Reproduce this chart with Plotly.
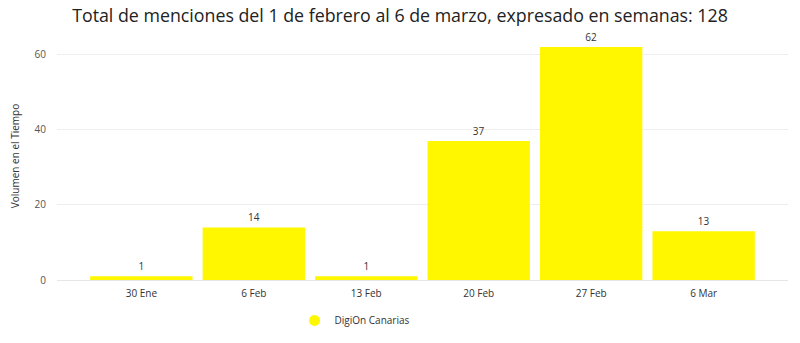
import plotly.graph_objects as go

categories = ["30 Ene", "6 Feb", "13 Feb", "20 Feb", "27 Feb", "6 Mar"]
values = [1, 14, 1, 37, 62, 13]
series_name = "DigiOn Canarias"
title_text = "Total de menciones del 1 de febrero al 6 de marzo, expresado en semanas: 128"
y_title = "Volumen en el Tiempo"
y_ticks = [0, 20, 40, 60]

yellow = "#FFF700"
font_family = "Open Sans, Noto Sans, sans-serif"

fig = go.Figure()
fig.add_trace(go.Bar(
    x=categories, y=values, marker=dict(color=yellow, line=dict(width=0)),
    text=values, textposition="outside", cliponaxis=False,
    textfont=dict(size=10, color="#333333", family=font_family),
    showlegend=False, name=series_name,
))
fig.add_trace(go.Scatter(
    x=[None], y=[None], mode="markers", name=series_name,
    marker=dict(symbol="circle", size=11, color=yellow),
))

fig.update_layout(
    width=800, height=343,
    margin=dict(l=57, r=12, t=32, b=63, autoexpand=False),
    paper_bgcolor="white", plot_bgcolor="white",
    title=dict(text=title_text, x=0.5, xanchor="center", y=0.955, yanchor="middle",
               font=dict(size=17.8, color="#222222", family=font_family)),
    bargap=0.09,
    xaxis=dict(range=[-0.75, 5.75], showgrid=False, showline=False, ticks="",
               ticklabelstandoff=6, automargin=False,
               tickfont=dict(size=10, color="#333333", family=font_family)),
    yaxis=dict(range=[0, 66], tickvals=y_ticks, showgrid=True, gridcolor="#eeeeee",
               zeroline=True, zerolinecolor="#e6e6e6", zerolinewidth=1, automargin=False,
               tickfont=dict(size=10, color="#555555", family=font_family),
               ticklabelstandoff=10,
               title=dict(text=y_title, standoff=13,
                          font=dict(size=10, color="#333333", family=font_family))),
    legend=dict(orientation="h", x=0.325, xanchor="left", y=-0.163, yanchor="middle",
                font=dict(size=10, color="#333333", family=font_family)),
)

fig.write_html("out.html")
